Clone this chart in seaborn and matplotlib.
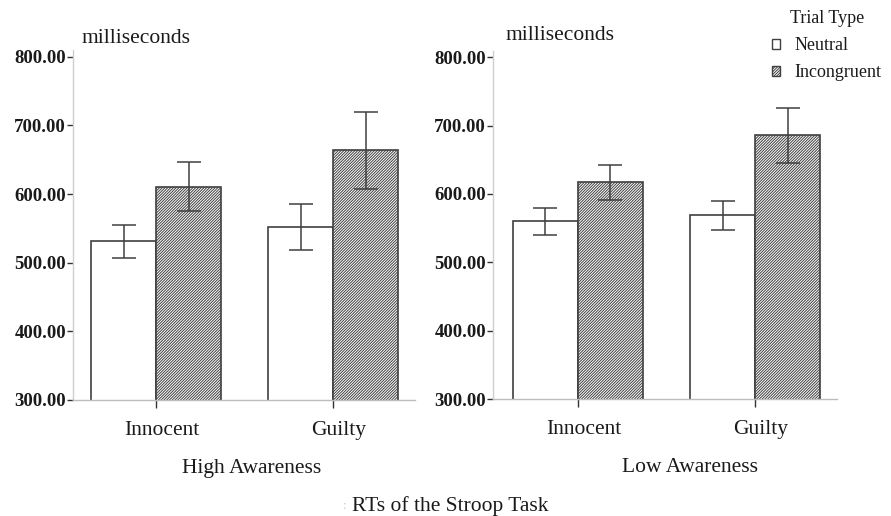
import matplotlib
matplotlib.use("Agg")
import matplotlib.pyplot as plt
import matplotlib.transforms as mtransforms
from matplotlib.patches import Patch
import pandas as pd
import seaborn as sns

# Mean reaction times (ms) and error half-widths per panel
groups = ["Innocent", "Guilty"]
trial_types = ["Neutral", "Incongruent"]
panels = ["High Awareness", "Low Awareness"]

high_neutral = [531, 552]
high_incongruent = [611, 664]
high_neutral_err = [24, 34]
high_incongruent_err = [36, 56]

low_neutral = [560, 569]
low_incongruent = [617, 686]
low_neutral_err = [20, 21]
low_incongruent_err = [26, 40]

yticks = [300, 400, 500, 600, 700, 800]

rows = []
for panel, neu, inc, neu_e, inc_e in [
    ("High Awareness", high_neutral, high_incongruent, high_neutral_err, high_incongruent_err),
    ("Low Awareness", low_neutral, low_incongruent, low_neutral_err, low_incongruent_err),
]:
    for g, m, e in zip(groups, neu, neu_e):
        rows.append(dict(panel=panel, group=g, trial="Neutral", rt=m, err=e))
    for g, m, e in zip(groups, inc, inc_e):
        rows.append(dict(panel=panel, group=g, trial="Incongruent", rt=m, err=e))
df = pd.DataFrame(rows)

sns.set_style("white")
plt.rcParams["font.family"] = ["Liberation Serif", "DejaVu Serif"]
plt.rcParams["hatch.linewidth"] = 0.7

EDGE = "#404040"
TEXT = "#1a1a1a"
HATCH = "/" * 12

fig = plt.figure(figsize=(8.91, 5.16), dpi=100)
W, H = 891.0, 516.0

axes_px = {
    "High Awareness": (73, 415, 50, 400, (-0.469, 1.463)),
    "Low Awareness": (493, 837, 50.5, 399, (-0.48, 1.463)),
}

for panel in panels:
    x0, x1, ytop, ybot, xlim = axes_px[panel]
    ax = fig.add_axes([x0 / W, 1 - ybot / H, (x1 - x0) / W, (ybot - ytop) / H])
    sub = df[df.panel == panel]
    sns.barplot(
        data=sub, x="group", y="rt", hue="trial",
        order=groups, hue_order=trial_types,
        palette={"Neutral": "white", "Incongruent": "white"},
        edgecolor=EDGE, linewidth=1.2, width=0.734,
        errorbar=None, legend=False, ax=ax,
    )
    for bar in ax.containers[1]:
        bar.set_hatch(HATCH)
    for cont, trial in zip(ax.containers, trial_types):
        part = sub[sub.trial == trial].set_index("group").loc[groups]
        xs = [b.get_x() + b.get_width() / 2 for b in cont]
        ax.errorbar(xs, part["rt"].values, yerr=part["err"].values, fmt="none",
                    ecolor=EDGE, elinewidth=1.1, capsize=8.5, capthick=1.1, zorder=5)

    ax.set_ylim(300, 810)
    ax.set_xlim(*xlim)
    ax.set_yticks(yticks)
    ax.set_yticklabels([f"{v:.2f}" for v in yticks], fontsize=13.5,
                       fontweight="bold", color=TEXT)
    ax.set_xticks(range(len(groups)))
    ax.set_xticklabels(groups, fontsize=15.5, color=TEXT)
    ax.set_xlabel("")
    ax.set_ylabel("")
    ax.tick_params(axis="y", length=4, width=1, color="#333333", pad=1, left=True)
    ax.tick_params(axis="x", length=6, width=1, color="#333333", pad=9, bottom=True)
    offset = mtransforms.ScaledTranslation(6 / 100, 0, fig.dpi_scale_trans)
    for lbl in ax.get_xticklabels():
        lbl.set_transform(lbl.get_transform() + offset)
    for side in ["top", "right"]:
        ax.spines[side].set_visible(False)
    ax.spines["left"].set_color("#cfcfcf")
    ax.spines["bottom"].set_color("#bdbdbd")
    ax.spines["left"].set_linewidth(1)
    ax.spines["bottom"].set_linewidth(1)

# Axis unit labels
fig.text(82 / W, 1 - 43 / H, "milliseconds", fontsize=15.5, color=TEXT,
         ha="left", va="baseline")
fig.text(505 / W, 1 - 40 / H, "milliseconds", fontsize=15.5, color=TEXT,
         ha="left", va="baseline")

# Panel captions and overall caption
fig.text(251.5 / W, 1 - 468 / H, "High Awareness", fontsize=15.5, color=TEXT,
         ha="center", va="center")
fig.text(690.5 / W, 1 - 468 / H, "Low Awareness", fontsize=15.5, color=TEXT,
         ha="center", va="center")
fig.text(343 / W, 1 - 506 / H, ":", fontsize=9, color="#c8c8c8",
         ha="left", va="center")
fig.text(352 / W, 1 - 506 / H, "RTs of the Stroop Task", fontsize=15.5, color=TEXT,
         ha="left", va="center")

# Legend
handles = [
    Patch(facecolor="white", edgecolor=EDGE, linewidth=1.0, label="Neutral"),
    Patch(facecolor="white", edgecolor=EDGE, linewidth=1.0, hatch=HATCH, label="Incongruent"),
]
leg = fig.legend(handles=handles, title="Trial Type", loc="upper left",
                 bbox_to_anchor=(772 / W, 1 - 10 / H), frameon=False,
                 fontsize=13, title_fontsize=13, handlelength=0.45,
                 handleheight=0.45, handletextpad=0.8, labelspacing=0.56,
                 borderpad=0, borderaxespad=0)
for t in leg.get_texts():
    t.set_color(TEXT)
leg.get_title().set_color(TEXT)

fig.savefig("out.png", dpi=100)
